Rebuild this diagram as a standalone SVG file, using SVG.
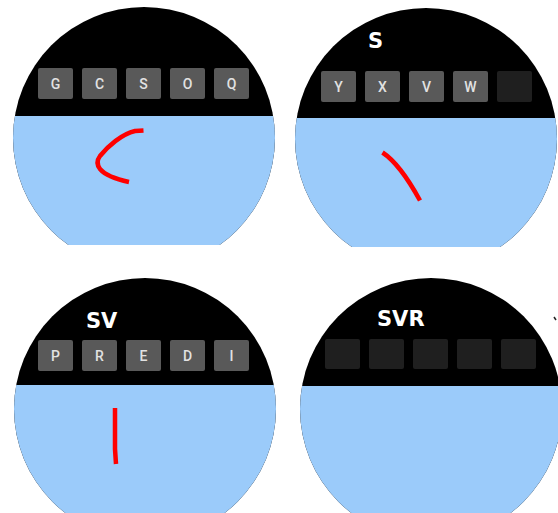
<svg xmlns="http://www.w3.org/2000/svg" width="558" height="513" viewBox="0 0 558 513">
<style>
.top{fill:#000}
.sky{fill:#9bcbfa}
.key{fill:#595959}
.dk{fill:#1f1f1f}
.kt{fill:#e2e2e2;font-family:Roboto,"Liberation Sans",sans-serif;font-weight:500;font-size:14px;text-anchor:middle}
.tt{fill:#fff;font-family:"DejaVu Sans",sans-serif;font-weight:bold;font-size:21px}
.ink{fill:none;stroke:#f00;stroke-width:4.5;stroke-linecap:butt;stroke-linejoin:round}
</style>
<defs>
<clipPath id="c1"><rect x="0" y="0" width="558" height="245"/></clipPath>
<clipPath id="c2"><rect x="0" y="0" width="558" height="247"/></clipPath>
<clipPath id="b1"><rect x="0" y="116" width="558" height="200"/></clipPath>
<clipPath id="b2"><rect x="0" y="118" width="558" height="200"/></clipPath>
<clipPath id="b3"><rect x="0" y="385" width="558" height="200"/></clipPath>
<clipPath id="b4"><rect x="0" y="386" width="558" height="200"/></clipPath>
</defs>
<rect width="558" height="513" fill="#fff"/>
<g id="watch1">
<g clip-path="url(#c1)">
<circle class="top" cx="144" cy="138" r="131"/>
<circle class="sky" cx="144" cy="138" r="131" clip-path="url(#b1)"/>
</g>
<rect class="key" x="38" y="68" width="35" height="31" rx="2"/>
<rect class="key" x="82" y="68" width="35" height="31" rx="2"/>
<rect class="key" x="126" y="68" width="35" height="31" rx="2"/>
<rect class="key" x="170" y="68" width="35" height="31" rx="2"/>
<rect class="key" x="214" y="68" width="35" height="31" rx="2"/>
<text class="kt" x="55.5" y="89">G</text>
<text class="kt" x="99.5" y="89">C</text>
<text class="kt" x="143.5" y="89">S</text>
<text class="kt" x="187.5" y="89">O</text>
<text class="kt" x="231.5" y="89">Q</text>
<path class="ink" d="M143.5,130.5 L135,131 C122,134 108,146 100,156 C97,160 97,165 100,169 C105,175 115,179 129,182"/>
</g>
<g id="watch2">
<g clip-path="url(#c2)">
<circle class="top" cx="426" cy="139" r="131"/>
<circle class="sky" cx="426" cy="139" r="131" clip-path="url(#b2)"/>
</g>
<text class="tt" x="368" y="48">S</text>
<rect class="key" x="321" y="71" width="35" height="31" rx="2"/>
<rect class="key" x="365" y="71" width="35" height="31" rx="2"/>
<rect class="key" x="409" y="71" width="35" height="31" rx="2"/>
<rect class="key" x="453" y="71" width="35" height="31" rx="2"/>
<rect class="dk" x="497" y="71" width="35" height="31" rx="2"/>
<text class="kt" x="338.5" y="92">Y</text>
<text class="kt" x="382.5" y="92">X</text>
<text class="kt" x="426.5" y="92">V</text>
<text class="kt" x="470.5" y="92">W</text>
<path class="ink" d="M382.5,152.5 Q400,164 420,200.5"/>
</g>
<g id="watch3">
<circle class="top" cx="145" cy="409" r="131"/>
<circle class="sky" cx="145" cy="409" r="131" clip-path="url(#b3)"/>
<text class="tt" x="86" y="328">SV</text>
<rect class="key" x="38" y="340" width="35" height="31" rx="2"/>
<rect class="key" x="82" y="340" width="35" height="31" rx="2"/>
<rect class="key" x="126" y="340" width="35" height="31" rx="2"/>
<rect class="key" x="170" y="340" width="35" height="31" rx="2"/>
<rect class="key" x="214" y="340" width="35" height="31" rx="2"/>
<text class="kt" x="55.5" y="361">P</text>
<text class="kt" x="99.5" y="361">R</text>
<text class="kt" x="143.5" y="361">E</text>
<text class="kt" x="187.5" y="361">D</text>
<text class="kt" x="231.5" y="361">I</text>
<path class="ink" d="M115,408 L115,449 L116,464"/>
</g>
<g id="watch4">
<circle class="top" cx="431" cy="409" r="131"/>
<circle class="sky" cx="431" cy="409" r="131" clip-path="url(#b4)"/>
<text class="tt" x="377" y="326">SVR</text>
<rect class="dk" x="325" y="339" width="35" height="30" rx="2"/>
<rect class="dk" x="369" y="339" width="35" height="30" rx="2"/>
<rect class="dk" x="413" y="339" width="35" height="30" rx="2"/>
<rect class="dk" x="457" y="339" width="35" height="30" rx="2"/>
<rect class="dk" x="501" y="339" width="35" height="30" rx="2"/>
<path d="M554,317 L556,320" stroke="#222" stroke-width="1.5" fill="none"/>
</g>
</svg>
